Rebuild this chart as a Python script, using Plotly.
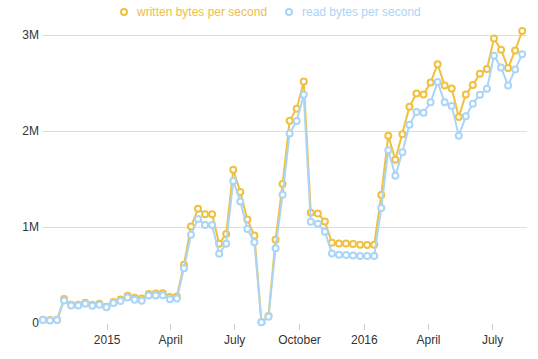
import plotly.graph_objects as go

dates = [
    "2014-10-02", "2014-10-12", "2014-10-22", "2014-11-01", "2014-11-11", "2014-11-21",
    "2014-12-01", "2014-12-11", "2014-12-21", "2014-12-31",
    "2015-01-10", "2015-01-20", "2015-01-30", "2015-02-09", "2015-02-19", "2015-03-01",
    "2015-03-11", "2015-03-21", "2015-03-31", "2015-04-10", "2015-04-20", "2015-04-30",
    "2015-05-10", "2015-05-20", "2015-05-30", "2015-06-09", "2015-06-19", "2015-06-29",
    "2015-07-09", "2015-07-19", "2015-07-29", "2015-08-08", "2015-08-18", "2015-08-28",
    "2015-09-07", "2015-09-17", "2015-09-27", "2015-10-07", "2015-10-17", "2015-10-27",
    "2015-11-06", "2015-11-16", "2015-11-26", "2015-12-06", "2015-12-16", "2015-12-26",
    "2016-01-05", "2016-01-15", "2016-01-25", "2016-02-04", "2016-02-14", "2016-02-24",
    "2016-03-05", "2016-03-15", "2016-03-25", "2016-04-04", "2016-04-14", "2016-04-24",
    "2016-05-04", "2016-05-14", "2016-05-24", "2016-06-03", "2016-06-13", "2016-06-23",
    "2016-07-03", "2016-07-13", "2016-07-23", "2016-08-02", "2016-08-12",
]

written_m = [
    0.035, 0.03, 0.035, 0.25, 0.19, 0.19, 0.21, 0.19, 0.20, 0.17,
    0.22, 0.245, 0.285, 0.262, 0.255, 0.303, 0.308, 0.31, 0.27, 0.276,
    0.607, 1.006, 1.19, 1.132, 1.132, 0.826, 0.928, 1.597, 1.364, 1.078,
    0.912, 0.01, 0.072, 0.868, 1.448, 2.107, 2.233, 2.517, 1.149, 1.142,
    1.057, 0.835, 0.828, 0.828, 0.823, 0.815, 0.813, 0.815, 1.333, 1.952,
    1.70, 1.967, 2.253, 2.39, 2.38, 2.505, 2.695, 2.475, 2.443, 2.146,
    2.38, 2.48, 2.597, 2.646, 2.965, 2.847, 2.656, 2.84, 3.041,
]

read_m = [
    0.03, 0.025, 0.03, 0.235, 0.182, 0.182, 0.20, 0.18, 0.19, 0.165,
    0.208, 0.228, 0.265, 0.243, 0.233, 0.287, 0.287, 0.29, 0.248, 0.256,
    0.57, 0.92, 1.084, 1.02, 1.02, 0.722, 0.826, 1.48, 1.267, 0.979,
    0.84, 0.008, 0.066, 0.78, 1.336, 1.975, 2.104, 2.378, 1.055, 1.035,
    0.951, 0.725, 0.712, 0.708, 0.703, 0.697, 0.697, 0.698, 1.198, 1.80,
    1.535, 1.78, 2.066, 2.198, 2.19, 2.30, 2.51, 2.30, 2.26, 1.952,
    2.153, 2.285, 2.378, 2.44, 2.784, 2.663, 2.475, 2.64, 2.80,
]

written = [v * 1e6 for v in written_m]
read = [v * 1e6 for v in read_m]

series_names = ["written bytes per second", "read bytes per second"]
colors = ["#f0c03f", "#abd5f6"]

x_tickvals = ["2015-01-01", "2015-04-01", "2015-07-01", "2015-10-01",
              "2016-01-01", "2016-04-01", "2016-07-01"]
x_ticktext = ["2015", "April", "July", "October", "2016", "April", "July"]
y_tickvals = [0, 1e6, 2e6, 3e6]
y_ticktext = ["0", "1M", "2M", "3M"]

FONT = "Liberation Sans, Arial, Helvetica, sans-serif"

fig = go.Figure()
for name, vals, col in zip(series_names, [written, read], colors):
    fig.add_trace(go.Scatter(
        x=dates, y=vals, name=name, mode="lines+markers",
        line=dict(color=col, width=2),
        marker=dict(symbol="circle", size=6, color="white",
                    line=dict(color=col, width=2)),
        cliponaxis=False, showlegend=False, hoverinfo="skip",
    ))

W, H = 538, 359
PL, PR, PT, PB = 43, 527, 31, 323

legend_items = [(124, 134), (289, 300)]
shapes = []
annotations = []
ly = 1 + (PT - 12) / (PB - PT)
for (cx, tx), name, col in zip(legend_items, series_names, colors):
    shapes.append(dict(
        type="circle", xref="paper", yref="paper",
        xsizemode="pixel", ysizemode="pixel",
        xanchor=(cx - PL) / (PR - PL), yanchor=ly,
        x0=-3, x1=3, y0=-3, y1=3,
        line=dict(color=col, width=2), fillcolor="white",
    ))
    annotations.append(dict(
        text=name, xref="paper", yref="paper",
        x=(tx - PL) / (PR - PL), y=ly,
        xanchor="left", yanchor="middle", showarrow=False,
        font=dict(family=FONT, size=12, color=col),
    ))

fig.update_layout(
    width=W, height=H,
    margin=dict(l=PL, r=W - PR, t=PT, b=H - PB, autoexpand=False),
    paper_bgcolor="white", plot_bgcolor="white",
    font=dict(family=FONT, size=12, color="#333333"),
    shapes=shapes, annotations=annotations,
    showlegend=False, hovermode=False, dragmode=False,
)
fig.update_xaxes(
    type="date", range=["2014-10-02", "2016-08-18 20:00"],
    tickvals=x_tickvals, ticktext=x_ticktext,
    showgrid=False, zeroline=False, showline=False,
    ticks="outside", ticklen=6, tickcolor="#cccccc", tickwidth=1,
    tickfont=dict(family=FONT, size=12, color="#333333"),
    automargin=False,
)
fig.update_yaxes(
    range=[0, 3.042e6], tickvals=y_tickvals, ticktext=y_ticktext,
    showgrid=True, gridcolor="#dddddd", gridwidth=1,
    zeroline=False, showline=False, ticks="",
    ticklabelstandoff=3,
    tickfont=dict(family=FONT, size=12, color="#333333"),
    automargin=False,
)

fig.write_html(
    "out.html",
    config={"displayModeBar": False, "staticPlot": True},
    post_script="document.body.style.margin='0px';document.body.style.overflow='hidden';",
)
